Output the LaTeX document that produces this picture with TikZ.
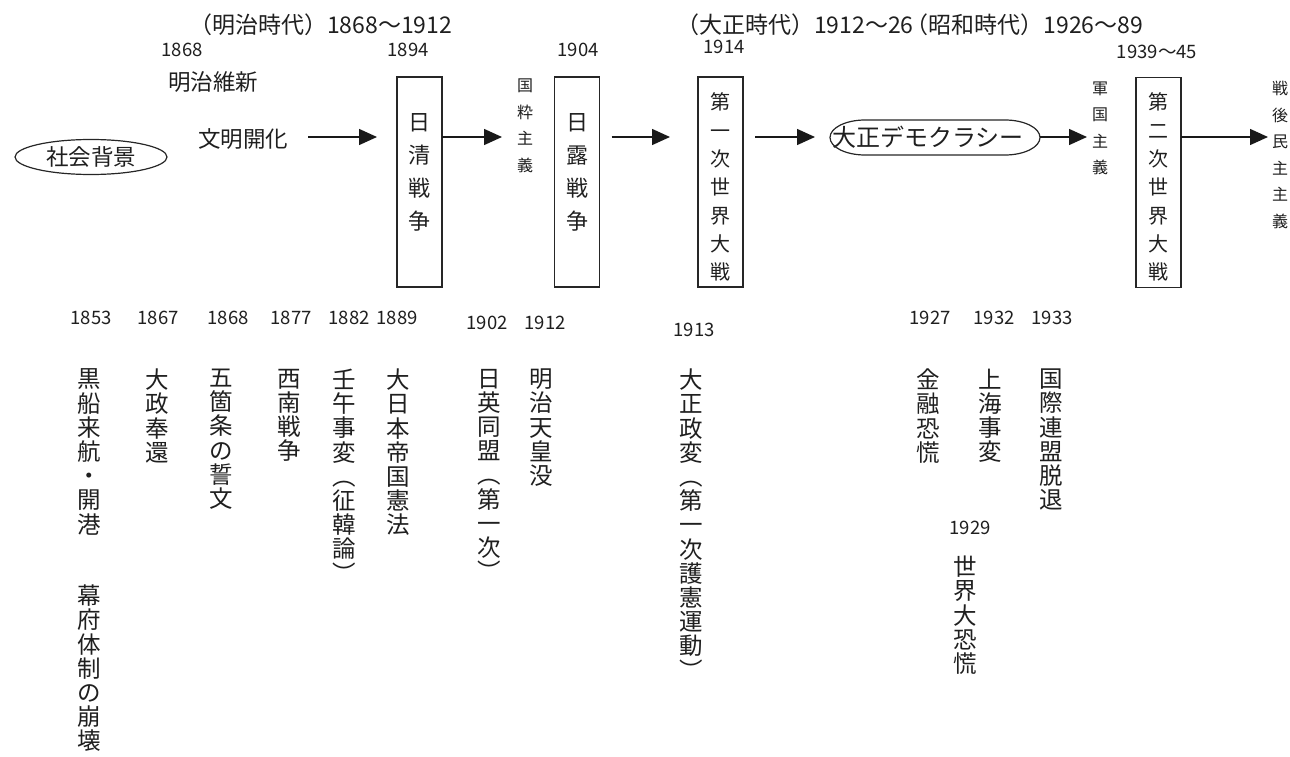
\documentclass[tikz,border=0pt]{standalone}
\usepackage{fontspec}
\setmainfont{Noto Sans CJK JP}
\usetikzlibrary{arrows.meta,shapes.geometric}
\newcommand{\fsz}[2]{\fontsize{#1}{#2}\selectfont}
\begin{document}
\begin{tikzpicture}[x=1pt,y=-1pt,
  every node/.style={inner sep=0pt, outer sep=0pt, text=black!88},
  titletxt/.style={font=\fsz{23}{27}, anchor=west},
  yeartxt/.style={font=\fsz{18.5}{22}},
  htxt/.style={font=\fsz{22.5}{26}},
  vtxt/.style={font=\fsz{23.5}{24.2}, align=center, anchor=north},
  svtxt/.style={font=\fsz{16}{26.5}, align=center, anchor=north},
  boxtxt/.style={font=\fsz{22}{33}, align=center, anchor=north},
  wbtxt/.style={font=\fsz{20}{28.3}, align=center, anchor=north},
  warbox/.style={draw=black!85, line width=1.4pt, minimum width=45pt, minimum height=210pt},
  arr/.style={draw=black!90, line width=1.4pt, -{Triangle[length=18pt,width=16pt]}},
]
\useasboundingbox (0,0) rectangle (1290,757);
\coordinate (ay) at (0,137);

% titles
\node[titletxt] (t1) at (189,25) {（明治時代）1868〜1912};
\node[titletxt] (t2) at (676,25) {（大正時代）1912〜26\kern-8pt（昭和時代）1926〜89};

% upper years
\node[yeartxt] (u1868) at (182,50) {1868};
\node[yeartxt] (u1894) at (408,50) {1894};
\node[yeartxt] (u1904) at (578,50) {1904};
\node[yeartxt] (u1914) at (724,47) {1914};
\node[yeartxt] (u1939) at (1157,52) {1939〜45};

\node[htxt] (meiji) at (213,82) {明治維新};
\node[htxt] (bunmei) at (243,139) {文明開化};
\node[draw=black!85, line width=1.2pt, ellipse, minimum width=152pt, minimum height=35pt, font=\fsz{22.5}{26}] (shakai) at (91,157) {社会背景};

% war boxes
\node[warbox] (nisshin) at (419.5,182) {};
\node[boxtxt] (nisshinT) at (419.5,114) {日\\清\\戦\\争};
\node[warbox] (nichiro) at (577,182) {};
\node[boxtxt] (nichiroT) at (577,114) {日\\露\\戦\\争};
\node[warbox] (ww1) at (720.5,182) {};
\node[wbtxt] (ww1T) at (720.5,93) {第\\一\\次\\世\\界\\大\\戦};
\node[warbox] (ww2) at (1158.5,182.5) {};
\node[wbtxt] (ww2T) at (1158.5,93) {第\\二\\次\\世\\界\\大\\戦};

% small vertical labels
\node[svtxt] (kokusui) at (525,79) {国\\粋\\主\\義};
\node[svtxt] (gunkoku) at (1100,81.5) {軍\\国\\主\\義};
\node[svtxt] (sengo) at (1280,81.5) {戦\\後\\民\\主\\主\\義};

% Taisho democracy
\node[font=\fsz{24}{28}, minimum width=210pt, minimum height=35pt, text width=206pt, align=left, inner xsep=2pt] (demo) at (935,137.5) {大正デモクラシー};
\draw[draw=black!85, line width=1.2pt] ([xshift=35pt]demo.north west) -- ([xshift=-35pt]demo.north east)
  arc[start angle=90, end angle=-90, x radius=35pt, y radius=17.5pt]
  -- ([xshift=35pt]demo.south west)
  arc[start angle=270, end angle=90, x radius=35pt, y radius=17.5pt] -- cycle;

% arrows
\draw[arr, shorten <=20pt, shorten >=20pt] (bunmei.east |- ay) -- (nisshin.west |- ay);
\draw[arr, shorten >=15pt] (nisshin.east |- ay) -- (kokusui.west |- ay);
\draw[arr, shorten <=12pt, shorten >=28pt] (nichiro.east |- ay) -- (ww1.west |- ay);
\draw[arr, shorten <=12pt, shorten >=15pt] (ww1.east |- ay) -- (demo.west |- ay);
\draw[arr, shorten >=5pt] (demo.east |- ay) -- (gunkoku.west |- ay);
\draw[arr, shorten >=4pt] (ww2.east |- ay) -- (sengo.west |- ay);

% lower years
\node[yeartxt] (l1853) at (91,318) {1853};
\node[yeartxt] (l1867) at (158,318) {1867};
\node[yeartxt] (l1868) at (228,318) {1868};
\node[yeartxt] (l1877) at (291,318) {1877};
\node[yeartxt] (l1882) at (349,318) {1882};
\node[yeartxt] (l1889) at (397,318) {1889};
\node[yeartxt] (l1902) at (487,323) {1902};
\node[yeartxt] (l1912) at (545,323) {1912};
\node[yeartxt] (l1913) at (694,330) {1913};
\node[yeartxt] (l1927) at (930,318) {1927};
\node[yeartxt] (l1932) at (994,318) {1932};
\node[yeartxt] (l1933) at (1052,318) {1933};
\node[yeartxt] (l1929) at (970,528) {1929};

% lower vertical events
\node[vtxt] (kurofune) at (89,369) {黒\\船\\来\\航\\・\\開\\港};
\node[vtxt] (bakufu) at (89,585) {幕\\府\\体\\制\\の\\崩\\壊};
\node[vtxt] (taisei) at (157,369) {大\\政\\奉\\還};
\node[vtxt] (gokajo) at (221,369) {五\\箇\\条\\の\\誓\\文};
\node[vtxt] (seinan) at (289,369) {西\\南\\戦\\争};
\node[vtxt] (jingo) at (344,369) {壬\\午\\事\\変\\︵\\征\\韓\\論\\︶};
\node[vtxt] (kenpo) at (398,369) {大\\日\\本\\帝\\国\\憲\\法};
\node[vtxt] (nichiei) at (489,369) {日\\英\\同\\盟\\︵\\第\\一\\次\\︶};
\node[vtxt] (tenno) at (541,369) {明\\治\\天\\皇\\没};
\node[vtxt] (taisho) at (691,369) {大\\正\\政\\変\\︵\\第\\一\\次\\護\\憲\\運\\動\\︶};
\node[vtxt] (kinyu) at (928,369) {金\\融\\恐\\慌};
\node[vtxt] (shanghai) at (990,369) {上\\海\\事\\変};
\node[vtxt] (renmei) at (1051,369) {国\\際\\連\\盟\\脱\\退};
\node[vtxt] (daikyoko) at (965,556) {世\\界\\大\\恐\\慌};
\end{tikzpicture}
\end{document}
